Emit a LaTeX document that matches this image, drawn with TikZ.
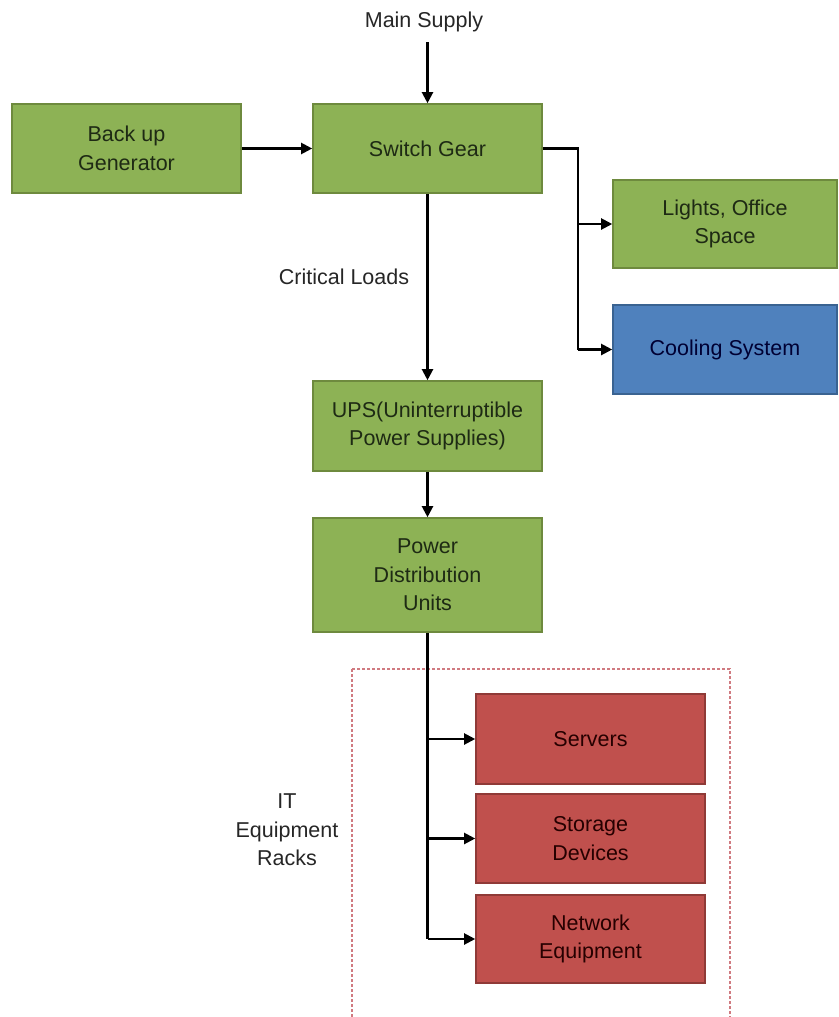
\documentclass[tikz,border=0pt]{standalone}
\usepackage{fontspec}
\setmainfont{Liberation Sans}
\usetikzlibrary{arrows.meta}
\definecolor{gfill}{HTML}{8DB255}
\definecolor{gdraw}{HTML}{6E8A3E}
\definecolor{bfill}{HTML}{4F81BD}
\definecolor{bdraw}{HTML}{3A6391}
\definecolor{rfill}{HTML}{C0504D}
\definecolor{rdraw}{HTML}{8F3A37}
\definecolor{txt}{HTML}{1E2A14}
\definecolor{dashc}{HTML}{D07A80}
\begin{document}
\begin{tikzpicture}[x=1pt,y=-1pt,
  box/.style={draw, line width=1.6pt, minimum width=229pt, inner sep=0pt, align=center,
    text=txt, font=\fontsize{21.5}{28.5}\selectfont},
  gbox/.style={box, fill=gfill, draw=gdraw},
  bbox/.style={box, fill=bfill, draw=bdraw, text=black!80!blue},
  rbox/.style={box, fill=rfill, draw=rdraw, text=black!85!red},
  lbl/.style={align=center, text=black!85, font=\fontsize{21.5}{28.5}\selectfont, inner sep=0pt},
  conn/.style={line width=2.1pt, -{Triangle[length=11pt,width=11pt]}},
  wire/.style={line width=2.1pt}]
\useasboundingbox (0,0) rectangle (838,1017);
\fill[white] (0,0) rectangle (838,1017);

\node[gbox, minimum width=229pt, minimum height=89pt] (gen) at (126.5,148.5) {Back up\\Generator};
\node[gbox, minimum width=229pt, minimum height=89pt] (sg) at (427.5,148.5) {Switch Gear};
\node[gbox, minimum width=224pt, minimum height=88pt] (lights) at (725,224) {Lights, Office\\Space};
\node[bbox, minimum width=224pt, minimum height=89pt] (cool) at (725,349.5) {Cooling System};
\node[gbox, minimum width=229pt, minimum height=90pt] (ups) at (427.5,426) {UPS(Uninterruptible\\Power Supplies)};
\node[gbox, minimum width=229pt, minimum height=114pt] (pdu) at (427.5,575) {Power\\Distribution\\Units};
\node[rbox, minimum width=229pt, minimum height=90pt] (srv) at (590.5,739) {Servers};
\node[rbox, minimum width=229pt, minimum height=89pt] (sto) at (590.5,838.5) {Storage\\Devices};
\node[rbox, minimum width=229pt, minimum height=88pt] (net) at (590.5,939) {Network\\Equipment};

\node[lbl] (main) at (424,22) {Main Supply};
\node[lbl] (crit) at (344,277) {Critical Loads};
\node[lbl] (it) at (287,830) {IT\\Equipment\\Racks};

\coordinate (ms) at (427.5,42);
\coordinate (sgr) at (578,148.5);
\coordinate (jl) at (578,224);
\coordinate (jc) at (578,349.5);
\coordinate (p1) at (427.5,739);
\coordinate (p2) at (427.5,838.5);
\coordinate (p3) at (427.5,939);

\draw[dashc, line width=1.2pt, dash pattern=on 3pt off 2pt] (352,669) rectangle (730,1030);

\draw[conn] (ms) -- (sg);
\draw[conn] (gen) -- (sg);
\draw[wire] (sg.east) -- (sgr) -- (jc);
\draw[conn] (jl) -- (lights);
\draw[conn] (jc) -- (cool);
\draw[conn] (sg) -- (ups);
\draw[conn] (ups) -- (pdu);
\draw[wire] (pdu.south) -- (p3);
\draw[conn] (p1) -- (srv);
\draw[conn] (p2) -- (sto);
\draw[conn] (p3) -- (net);
\end{tikzpicture}
\end{document}
